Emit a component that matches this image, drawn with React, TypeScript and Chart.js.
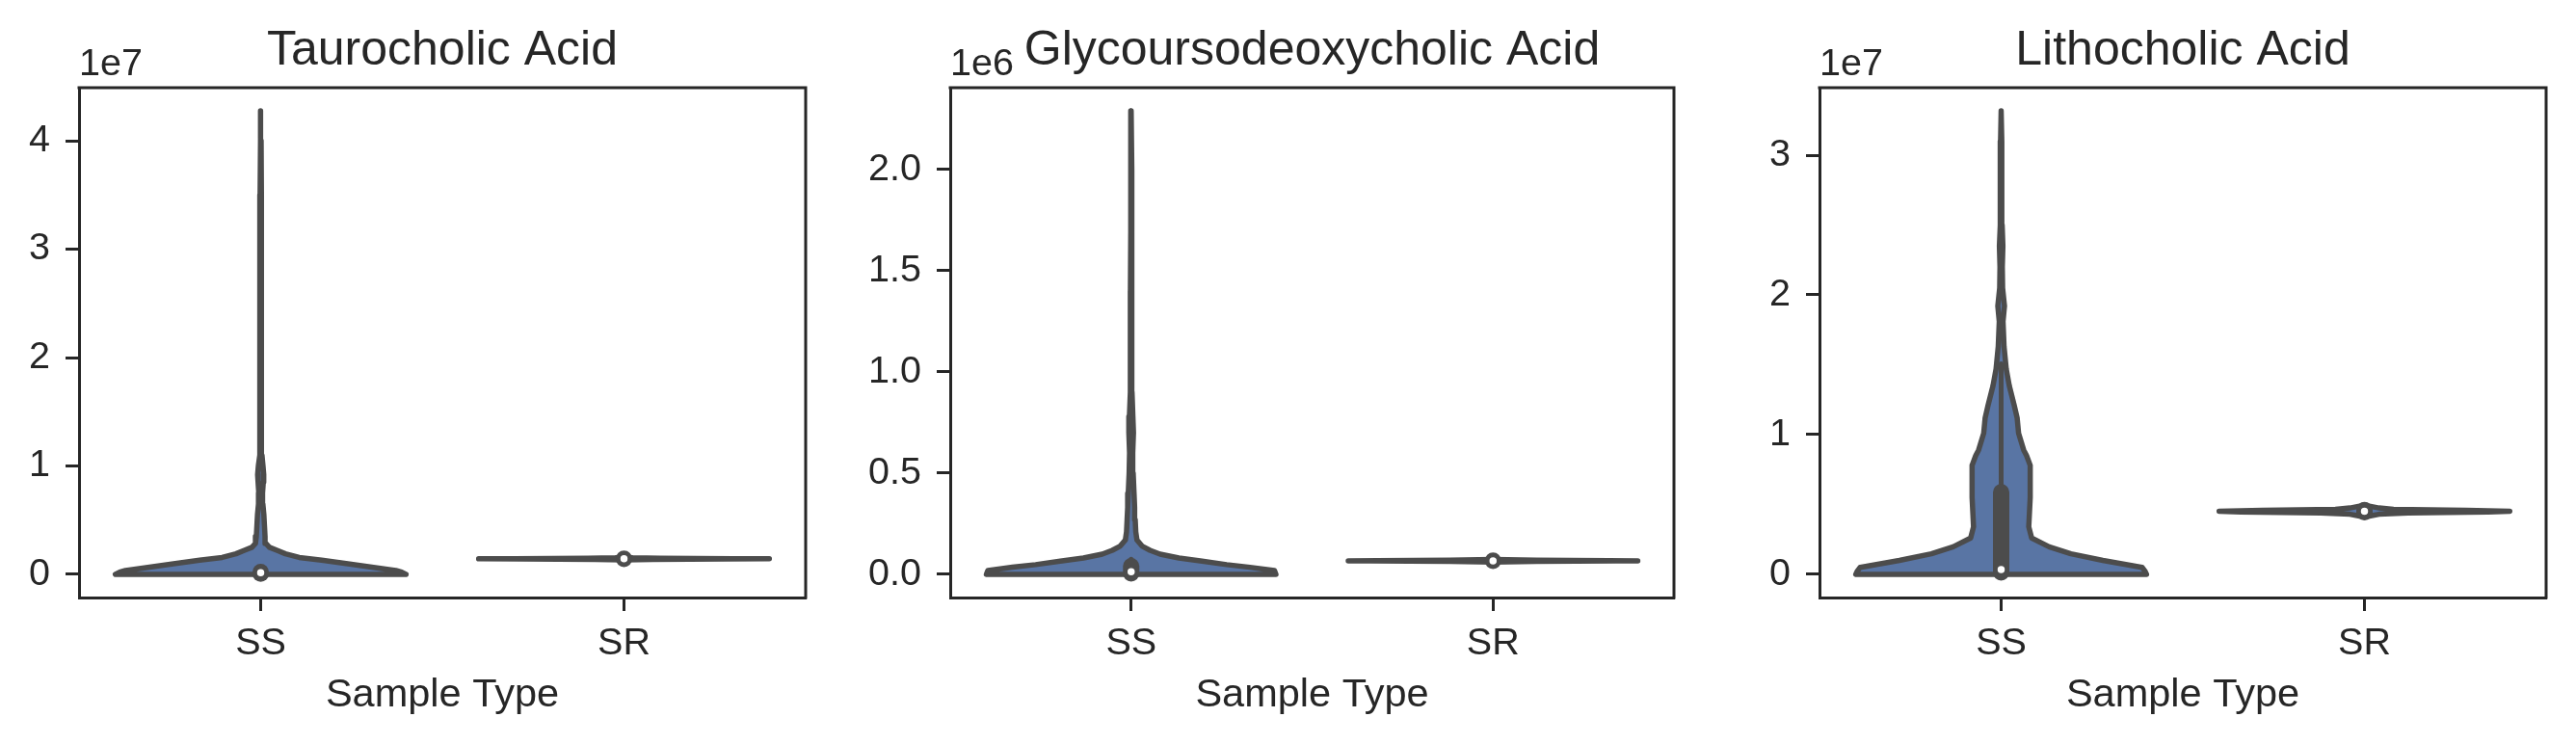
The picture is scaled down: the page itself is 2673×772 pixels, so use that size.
import React, { useEffect, useRef } from "react";
import { Chart, registerables } from "chart.js";

Chart.register(...registerables);

const FONT = "'Liberation Sans', Arial, Helvetica, sans-serif";
const TEXT = "#262626";
const FILL = "#5975a4";
const LINE = "#4c4c4c";
const HALF = 0.4;

// ---------- data ----------
const CATEGORIES = ["SS", "SR"];
const X_TITLE = "Sample Type";
const PANEL_TITLES = ["Taurocholic Acid", "Glycoursodeoxycholic Acid", "Lithocholic Acid"];
const OFFSET_EXP = [7, 6, 7];

const TC_TICKS = [0, 1e7, 2e7, 3e7, 4e7];
const GUDCA_TICKS = [0, 0.5e6, 1.0e6, 1.5e6, 2.0e6];
const LCA_TICKS = [0, 1e7, 2e7, 3e7];
const TICK_DECIMALS = [0, 1, 0];

// violin profiles: value levels (ys) and relative half-widths (ws, 1 = widest)
const TC_SS_Y = [0, 0.02e7, 0.036e7, 0.06e7, 0.098e7, 0.13e7, 0.156e7, 0.19e7, 0.22e7, 0.25e7, 0.285e7, 0.35e7, 0.45e7, 0.55e7, 0.65e7, 0.75e7, 0.85e7, 0.92e7, 1.0e7, 1.1e7, 1.3e7, 1.6e7, 2.0e7, 2.5e7, 3.0e7, 3.5e7, 4.0e7, 4.276e7];
const TC_SS_W = [1.0, 0.97, 0.93, 0.8, 0.6, 0.42, 0.265, 0.17, 0.116, 0.06, 0.036, 0.03, 0.026, 0.022, 0.015, 0.013, 0.018, 0.021, 0.016, 0.009, 0.005, 0.005, 0.006, 0.005, 0.005, 0.004, 0.003, 0];
const TC_SS_BOX = [0, 0.007e7, 0.015e7, 0.022e7, 0.06e7]; // whisker low, q1, median, q3, whisker high

const TC_SR_Y = [1.34e6, 1.38e6, 1.41e6, 1.43e6, 1.45e6, 1.48e6, 1.53e6, 1.58e6];
const TC_SR_W = [0, 0.2, 0.7, 1.0, 0.75, 0.25, 0.06, 0];
const TC_SR_BOX = [1.36e6, 1.41e6, 1.43e6, 1.45e6, 1.52e6];

const GU_SS_Y = [0, 0.019e6, 0.035e6, 0.048e6, 0.065e6, 0.081e6, 0.1e6, 0.119e6, 0.14e6, 0.17e6, 0.21e6, 0.27e6, 0.33e6, 0.4e6, 0.5e6, 0.6e6, 0.7e6, 0.78e6, 0.9e6, 1.1e6, 1.4e6, 1.7e6, 2.0e6, 2.29e6];
const GU_SS_W = [1.0, 0.99, 0.82, 0.66, 0.49, 0.33, 0.2, 0.13, 0.075, 0.04, 0.032, 0.028, 0.024, 0.02, 0.014, 0.011, 0.016, 0.012, 0.006, 0.005, 0.005, 0.004, 0.004, 0];
const GU_SS_BOX = [0, 0.005e6, 0.013e6, 0.04e6, 0.075e6];

const GU_SR_Y = [0.061e6, 0.064e6, 0.066e6, 0.0667e6, 0.068e6, 0.07e6, 0.073e6];
const GU_SR_W = [0, 0.3, 0.85, 1.0, 0.8, 0.3, 0];
const GU_SR_BOX = [0.063e6, 0.066e6, 0.0667e6, 0.0675e6, 0.071e6];

const LC_SS_Y = [0, 0.023e7, 0.05e7, 0.1e7, 0.147e7, 0.197e7, 0.26e7, 0.34e7, 0.55e7, 0.78e7, 0.85e7, 0.89e7, 1.01e7, 1.12e7, 1.21e7, 1.35e7, 1.47e7, 1.63e7, 1.81e7, 1.92e7, 2.05e7, 2.2e7, 2.35e7, 2.5e7, 2.8e7, 3.1e7, 3.317e7];
const LC_SS_W = [1.0, 0.99, 0.97, 0.7, 0.48, 0.33, 0.21, 0.19, 0.2, 0.2, 0.175, 0.155, 0.12, 0.11, 0.09, 0.056, 0.035, 0.02, 0.013, 0.023, 0.01, 0.008, 0.012, 0.007, 0.005, 0.004, 0];
const LC_SS_BOX = [0, 0.014e7, 0.034e7, 0.587e7, 1.506e7];

const LC_SR_Y = [4.1e6, 4.2e6, 4.3e6, 4.4e6, 4.47e6, 4.52e6, 4.58e6, 4.65e6, 4.75e6, 4.85e6, 4.95e6];
const LC_SR_W = [0, 0.05, 0.1, 0.3, 0.85, 1.0, 0.7, 0.2, 0.1, 0.05, 0];
const LC_SR_BOX = [4.25e6, 4.45e6, 4.52e6, 4.6e6, 4.8e6];

type Violin = { ys: number[]; ws: number[]; box: number[] };

const PANELS: { title: string; exp: number; ticks: number[]; decimals: number; violins: Violin[] }[] = [
  { title: PANEL_TITLES[0], exp: OFFSET_EXP[0], ticks: TC_TICKS, decimals: TICK_DECIMALS[0], violins: [ { ys: TC_SS_Y, ws: TC_SS_W, box: TC_SS_BOX }, { ys: TC_SR_Y, ws: TC_SR_W, box: TC_SR_BOX } ] },
  { title: PANEL_TITLES[1], exp: OFFSET_EXP[1], ticks: GUDCA_TICKS, decimals: TICK_DECIMALS[1], violins: [ { ys: GU_SS_Y, ws: GU_SS_W, box: GU_SS_BOX }, { ys: GU_SR_Y, ws: GU_SR_W, box: GU_SR_BOX } ] },
  { title: PANEL_TITLES[2], exp: OFFSET_EXP[2], ticks: LCA_TICKS, decimals: TICK_DECIMALS[2], violins: [ { ys: LC_SS_Y, ws: LC_SS_W, box: LC_SS_BOX }, { ys: LC_SR_Y, ws: LC_SR_W, box: LC_SR_BOX } ] },
];

// ---------- layout ----------
const LAYOUT = [
  { left: 0, width: 900, yAxisWidth: 82, rightPad: 64 },
  { left: 900, width: 900, yAxisWidth: 86, rightPad: 63 },
  { left: 1800, width: 873, yAxisWidth: 88, rightPad: 31 },
];
const H = 772;
const TICK_FONT = 39.5;

function buildDatasets(violins: Violin[]) {
  const ds: any[] = [];
  violins.forEach((v, c) => {
    const right = v.ys.map((y, i) => ({ x: c + HALF * v.ws[i], y }));
    const left = v.ys.map((y, i) => ({ x: c - HALF * v.ws[i], y })).reverse();
    ds.push({
      data: [...right, ...left, right[0]],
      showLine: true,
      fill: "shape",
      backgroundColor: FILL,
      borderColor: LINE,
      borderWidth: 5.5,
      borderJoinStyle: "round",
      borderCapStyle: "round",
      pointRadius: 0,
      tension: 0,
      order: 4,
    });
    const [wlo, q1, med, q3, whi] = v.box;
    ds.push({
      data: [{ x: c, y: wlo }, { x: c, y: whi }],
      showLine: true, fill: false, borderColor: LINE, borderWidth: 5,
      borderCapStyle: "round", pointRadius: 0, order: 3,
    });
    ds.push({
      data: [{ x: c, y: q1 }, { x: c, y: q3 }],
      showLine: true, fill: false, borderColor: LINE, borderWidth: 17,
      borderCapStyle: "round", pointRadius: 0, order: 2,
    });
    ds.push({
      data: [{ x: c, y: med }],
      showLine: false, pointRadius: 4.5, pointBackgroundColor: "#ffffff",
      pointBorderColor: LINE, pointBorderWidth: 1.5, order: 1,
    });
  });
  return ds;
}

function ViolinPanel({ idx }: { idx: number }) {
  const ref = useRef<HTMLCanvasElement | null>(null);
  const p = PANELS[idx];
  const L = LAYOUT[idx];

  useEffect(() => {
    if (!ref.current) return;
    const allY = p.violins.flatMap((v) => v.ys);
    const dMin = Math.min(...allY);
    const dMax = Math.max(...allY);
    const margin = 0.05 * (dMax - dMin);

    const framePlugin = {
      id: "frame" + idx,
      afterDraw(chart: any) {
        const { ctx, chartArea } = chart;
        const { left, right, top, bottom } = chartArea;
        ctx.save();
        ctx.strokeStyle = TEXT;
        ctx.lineWidth = 3;
        ctx.lineCap = "square";
        ctx.beginPath();
        ctx.moveTo(left, top);
        ctx.lineTo(right, top);
        ctx.lineTo(right, bottom);
        ctx.stroke();
        // offset text (scientific multiplier)
        ctx.fillStyle = TEXT;
        ctx.font = `${TICK_FONT}px ${FONT}`;
        ctx.textAlign = "left";
        ctx.textBaseline = "alphabetic";
        ctx.fillText(`1e${p.exp}`, left, top - 13);
        ctx.restore();
      },
    };

    const chart = new Chart(ref.current, {
      type: "scatter",
      data: { datasets: buildDatasets(p.violins) },
      options: {
        animation: false,
        responsive: false,
        maintainAspectRatio: false,
        devicePixelRatio: 1,
        events: [],
        layout: { padding: { left: 0, right: L.rightPad, top: 0, bottom: 0 } },
        plugins: {
          legend: { display: false },
          tooltip: { enabled: false },
          title: {
            display: true,
            text: p.title,
            fullSize: false,
            color: TEXT,
            font: { family: FONT, size: 50, weight: "normal", lineHeight: 1 },
            padding: { top: 28, bottom: 13 },
          },
        },
        scales: {
          x: {
            type: "linear",
            min: -0.5,
            max: 1.5,
            bounds: "data",
            afterBuildTicks: (s: any) => {
              s.ticks = CATEGORIES.map((_, i) => ({ value: i }));
            },
            afterFit: (s: any) => {
              s.height = 152;
            },
            grid: { drawOnChartArea: false, drawTicks: true, tickLength: 14, tickWidth: 3, tickColor: TEXT },
            border: { display: true, color: TEXT, width: 3 },
            ticks: {
              autoSkip: false,
              maxRotation: 0,
              minRotation: 0,
              padding: 14,
              color: TEXT,
              font: { family: FONT, size: TICK_FONT, lineHeight: 1 },
              callback: (v: any) => CATEGORIES[Math.round(Number(v))] ?? "",
            },
            title: {
              display: true,
              text: X_TITLE,
              color: TEXT,
              font: { family: FONT, size: 41.5, lineHeight: 1 },
              padding: { top: 0, bottom: 30 },
            },
          },
          y: {
            type: "linear",
            min: dMin - margin,
            max: dMax + margin,
            bounds: "data",
            afterBuildTicks: (s: any) => {
              s.ticks = p.ticks.map((v) => ({ value: v }));
            },
            afterFit: (s: any) => {
              s.width = L.yAxisWidth;
            },
            grid: { drawOnChartArea: false, drawTicks: true, tickLength: 14, tickWidth: 3, tickColor: TEXT },
            border: { display: true, color: TEXT, width: 3 },
            ticks: {
              autoSkip: false,
              padding: 16,
              color: TEXT,
              font: { family: FONT, size: TICK_FONT, lineHeight: 1 },
              callback: (v: any) => (Number(v) / Math.pow(10, p.exp)).toFixed(p.decimals),
            },
          },
        },
      } as any,
      plugins: [framePlugin],
    });
    return () => chart.destroy();
  }, [idx]);

  return (
    <canvas
      ref={ref}
      width={L.width}
      height={H}
      style={{ position: "absolute", left: L.left, top: 0, width: L.width, height: H }}
    />
  );
}

export default function App() {
  return (
    <div style={{ position: "absolute", left: 0, top: 0, width: 2673, height: H, background: "#ffffff", overflow: "hidden" }}>
      {PANELS.map((_, i) => (
        <ViolinPanel key={i} idx={i} />
      ))}
    </div>
  );
}
